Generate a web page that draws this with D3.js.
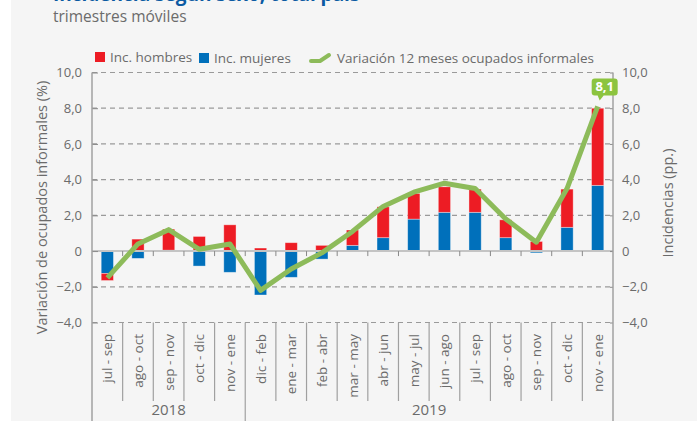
<!DOCTYPE html>
<html><head><meta charset="utf-8">
<script src="https://cdn.jsdelivr.net/npm/d3@7"></script>
<style>
html,body{margin:0;padding:0;background:#fff;}
svg{display:block;font-family:"Open Sans",sans-serif;}
</style></head>
<body>
<svg id="c" width="697" height="421"></svg>
<script>
const categories = ["jul - sep","ago - oct","sep - nov","oct - dic","nov - ene","dic - feb","ene - mar","feb - abr","mar - may","abr - jun","may - jul","jun - ago","jul - sep","ago - oct","sep - nov","oct - dic","nov - ene"];
const years = [{label:"2018", start:0, end:5},{label:"2019", start:5, end:17}];
const hombres = [-0.40,0.67,1.18,0.82,1.47,0.17,0.47,0.32,0.86,1.73,1.44,1.43,1.30,1.00,0.54,2.14,4.32];
const mujeres = [-1.25,-0.41,0.05,-0.84,-1.19,-2.46,-1.47,-0.45,0.32,0.75,1.79,2.17,2.17,0.75,-0.10,1.33,3.68];
const variacion = [-1.5,0.4,1.2,0.1,0.4,-2.2,-1.0,-0.1,1.1,2.5,3.3,3.8,3.5,1.8,0.5,3.5,8.1];
const yTicks = [-4,-2,0,2,4,6,8,10];

const svg = d3.select("#c");
const W = 697, H = 421;
const pL = 92, pR = 613, pT = 72.5, pB = 322.5;
const txt = "#6b6b6b";
const red = "#ed1c24", blue = "#0070bb", green = "#8dbb5a";

svg.append("rect").attr("x",11).attr("y",0).attr("width",W-11).attr("height",H).attr("fill","#f5f5f5");

// title (cropped) and subtitle
svg.append("text").attr("x",53).attr("y",1).attr("font-size",19).attr("font-weight","bold").attr("fill","#0b5aa2").text("Incidencia según sexo, total país");
svg.append("text").attr("x",53).attr("y",22).attr("font-size",15.5).attr("fill",txt).text("trimestres móviles");

const idx = categories.map((d,i)=>i);
const x = d3.scaleBand().domain(idx).range([pL,pR]).padding(0);
const y = d3.scaleLinear().domain([-4,10]).range([pB,pT]);
const fmt = d => d===0 ? "0" : d3.format(".1f")(d).replace(".",",");

// gridlines
svg.append("g").selectAll("line").data(yTicks.filter(d=>d!==0)).join("line")
  .attr("x1",pL).attr("x2",pR).attr("y1",d=>y(d)).attr("y2",d=>y(d))
  .attr("stroke","#9a9a9a").attr("stroke-width",1.2).attr("stroke-dasharray","5,4");

// stacked bars
const rows = idx.map(i=>({i, mujeres:mujeres[i], hombres:hombres[i]}));
const stack = d3.stack().keys(["mujeres","hombres"]).offset(d3.stackOffsetDiverging)(rows);
const colors = {mujeres:blue, hombres:red};
const bw = x.bandwidth()*0.4;
svg.append("g").selectAll("g").data(stack).join("g").attr("fill",d=>colors[d.key])
  .selectAll("rect").data(d=>d).join("rect")
  .attr("x",d=>x(d.data.i)+(x.bandwidth()-bw)/2).attr("width",bw)
  .attr("y",d=>y(Math.max(d[0],d[1]))).attr("height",d=>Math.abs(y(d[0])-y(d[1])))
  .attr("stroke","rgba(255,255,255,0.45)").attr("stroke-width",0.8);

// zero line + ticks
svg.append("line").attr("x1",pL).attr("x2",pR).attr("y1",y(0)).attr("y2",y(0)).attr("stroke","#c4c4c4").attr("stroke-width",2);
svg.append("g").selectAll("line").data(d3.range(1,categories.length)).join("line")
  .attr("x1",i=>x(i)).attr("x2",i=>x(i)).attr("y1",y(0)).attr("y2",y(0)+5)
  .attr("stroke","#888").attr("stroke-width",1);

// y axes
const yl = svg.append("g").attr("transform",`translate(${pL},0)`)
  .call(d3.axisLeft(y).tickValues(yTicks).tickFormat(fmt).tickSizeInner(-6).tickSizeOuter(0).tickPadding(10));
const yr = svg.append("g").attr("transform",`translate(${pR},0)`)
  .call(d3.axisRight(y).tickValues(yTicks).tickFormat(fmt).tickSizeInner(-3).tickSizeOuter(0).tickPadding(9));
[yl,yr].forEach(g=>{
  g.select(".domain").remove();
  g.selectAll(".tick line").attr("stroke","#8a8a8a");
  g.selectAll(".tick text").attr("fill",txt).attr("font-size",13).attr("font-family","Open Sans");
});
svg.append("line").attr("x1",pL).attr("x2",pL).attr("y1",pT).attr("y2",H).attr("stroke","#a0a0a0").attr("stroke-width",1.5);
svg.append("line").attr("x1",pR).attr("x2",pR).attr("y1",pT).attr("y2",H).attr("stroke","#a0a0a0").attr("stroke-width",1.5);

// category separators and labels
svg.append("g").selectAll("line").data(d3.range(1,categories.length)).join("line")
  .attr("x1",i=>x(i)).attr("x2",i=>x(i)).attr("y1",pB).attr("y2",i=>years.some(g=>g.start===i)?H:401)
  .attr("stroke","#a0a0a0").attr("stroke-width",1.2);
svg.append("g").selectAll("text").data(idx).join("text")
  .attr("transform",i=>`translate(${x(i)+x.bandwidth()/2+5},334) rotate(-90)`)
  .attr("text-anchor","end").attr("font-size",13.5).attr("fill",txt).text(i=>categories[i]);
svg.append("g").selectAll("text").data(years).join("text")
  .attr("x",d=>(x(d.start)+(d.end<categories.length?x(d.end):pR))/2).attr("y",415)
  .attr("text-anchor","middle").attr("font-size",15).attr("fill",txt).text(d=>d.label);

// line
const line = d3.line().x((d,i)=>x(i)+x.bandwidth()/2).y(d=>y(d));
svg.append("path").datum(variacion).attr("d",line).attr("fill","none")
  .attr("stroke",green).attr("stroke-width",5).attr("stroke-linejoin","round");

// data label
const li = variacion.length-1;
const px = x(li)+x.bandwidth()/2, py = y(variacion[li]);
const bx = px-6, by = py-28, bwid = 26, bh = 17;
svg.append("path").attr("fill","#8cc43f")
  .attr("d",`M${bx+3},${by} H${bx+bwid-3} Q${bx+bwid},${by} ${bx+bwid},${by+3} V${by+bh-3} Q${bx+bwid},${by+bh} ${bx+bwid-3},${by+bh} H${px+6} L${px+2},${py-6} L${px},${by+bh} H${bx+3} Q${bx},${by+bh} ${bx},${by+bh-3} V${by+3} Q${bx},${by} ${bx+3},${by} Z`);
svg.append("text").attr("x",bx+bwid/2).attr("y",by+13).attr("text-anchor","middle")
  .attr("font-size",13).attr("font-weight","bold").attr("fill","#fff").text(fmt(variacion[li]));

// axis titles
svg.append("text").attr("transform",`translate(47,${(pT+pB)/2+10}) rotate(-90)`)
  .attr("text-anchor","middle").attr("font-size",14.5).attr("fill",txt).text("Variación de ocupados informales (%)");
svg.append("text").attr("transform",`translate(673,203) rotate(-90)`)
  .attr("text-anchor","middle").attr("font-size",14.5).attr("fill",txt).text("Incidencias (pp.)");

// legend
const lg = svg.append("g").attr("font-size",13.5).attr("fill",txt);
lg.append("rect").attr("x",95).attr("y",52).attr("width",10).attr("height",10).attr("fill",red);
lg.append("text").attr("x",110).attr("y",62).text("Inc. hombres");
lg.append("rect").attr("x",199).attr("y",53).attr("width",10).attr("height",10).attr("fill",blue);
lg.append("text").attr("x",214).attr("y",63).text("Inc. mujeres");
lg.append("path").attr("d","M311,61 L320,61 L329,55").attr("fill","none").attr("stroke",green).attr("stroke-width",4).attr("stroke-linecap","round").attr("stroke-linejoin","round");
lg.append("text").attr("x",337).attr("y",63).text("Variación 12 meses ocupados informales");
</script>
</body></html>
